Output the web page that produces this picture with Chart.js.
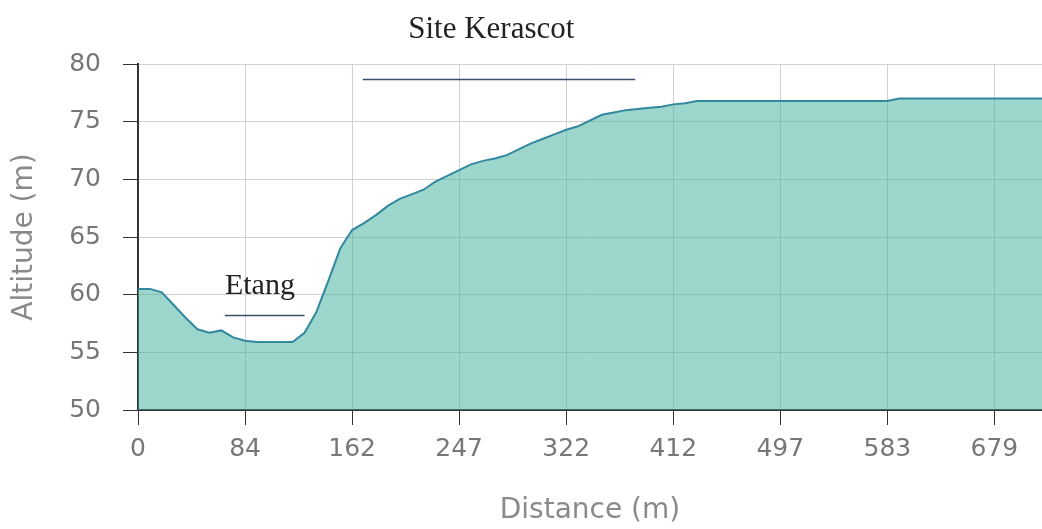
<!DOCTYPE html>
<html><head><meta charset="utf-8">
<script src="https://cdn.jsdelivr.net/npm/chart.js@4"></script>
<style>html,body{margin:0;padding:0;background:#fff;overflow:hidden}</style>
</head><body>
<canvas id="c" width="1042" height="529"></canvas>
<script>
// Tick labels (distance in m) shown on every 9th sample
const tickLabels = ['0','84','162','247','322','412','497','583','679'];
const pointsPerTick = 9;
// Altitude (m) per sample
const altitudes = [
  60.5, 60.5, 60.2, 59.1, 58.0, 57.0, 56.7, 56.9, 56.3,
  56.0, 55.9, 55.9, 55.9, 55.9, 56.7, 58.5, 61.2, 64.0,
  65.6, 66.2, 66.9, 67.7, 68.3, 68.7, 69.1, 69.8, 70.3,
  70.8, 71.3, 71.6, 71.8, 72.1, 72.6, 73.1, 73.5, 73.9,
  74.3, 74.6, 75.1, 75.6, 75.8, 76.0, 76.1, 76.2, 76.3,
  76.5, 76.6, 76.8, 76.8, 76.8, 76.8, 76.8, 76.8, 76.8,
  76.8, 76.8, 76.8, 76.8, 76.8, 76.8, 76.8, 76.8, 76.8,
  76.8, 77.0, 77.0, 77.0, 77.0, 77.0, 77.0, 77.0, 77.0,
  77.0, 77.0, 77.0, 77.0, 77.0
];
// Place annotations (in sample index / altitude units)
const placeNames = ['Etang', 'Site Kerascot'];
const placeTextX = [10.25, 29.7];
const placeTextY = [60.05, 82.25];
const placeLineFrom = [7.3, 18.9];
const placeLineTo = [14.0, 41.8];
const placeLineY = [58.2, 78.7];

const points = altitudes.map((a, i) => ({x: i, y: a}));

const placesPlugin = {
  id: 'places',
  afterDatasetsDraw(chart) {
    const {ctx, scales: {x, y}} = chart;
    ctx.save();
    placeNames.forEach((name, k) => {
      ctx.strokeStyle = '#34506e';
      ctx.lineWidth = 1.5;
      ctx.beginPath();
      const py = Math.round(y.getPixelForValue(placeLineY[k])) + 0.5;
      ctx.moveTo(x.getPixelForValue(placeLineFrom[k]), py);
      ctx.lineTo(x.getPixelForValue(placeLineTo[k]), py);
      ctx.stroke();
      ctx.fillStyle = '#222';
      ctx.font = (k === 0 ? '30px' : '31px') + ' "Liberation Serif", serif';
      ctx.textAlign = 'center';
      ctx.textBaseline = 'alphabetic';
      ctx.fillText(name, x.getPixelForValue(placeTextX[k]), y.getPixelForValue(placeTextY[k]));
    });
    ctx.restore();
  }
};

new Chart(document.getElementById('c'), {
  type: 'line',
  data: {
    datasets: [{
      data: points,
      borderColor: '#3388a0',
      borderWidth: 2,
      backgroundColor: 'rgba(59,173,153,0.5)',
      fill: 'start',
      pointRadius: 0,
      tension: 0
    }]
  },
  options: {
    responsive: false,
    animation: false,
    layout: {padding: {top: 64, right: 0, left: 0, bottom: 0}},
    plugins: {legend: {display: false}, tooltip: {enabled: false}},
    scales: {
      x: {
        type: 'linear',
        min: 0,
        max: altitudes.length - 1,
        afterBuildTicks: (s) => { s.ticks = tickLabels.map((_, k) => ({value: k * pointsPerTick})); },
        afterFit: (s) => { s.height = 119; },
        ticks: {
          autoSkip: false, maxRotation: 0, padding: 9,
          color: '#777',
          font: {family: '"DejaVu Sans", Verdana, sans-serif', size: 25},
          callback: (v) => tickLabels[Math.round(v / pointsPerTick)] ?? ''
        },
        grid: {color: '#d0d0d0', tickColor: '#333', tickLength: 15, lineWidth: 1},
        border: {color: '#333', width: 2},
        title: {
          display: true, text: 'Distance (m)', color: '#8a8a8a',
          font: {family: '"DejaVu Sans", Verdana, sans-serif', size: 28},
          padding: {top: 0, bottom: 1}
        }
      },
      y: {
        min: 50, max: 80,
        afterFit: (s) => { s.width = 138; },
        ticks: {
          stepSize: 5, padding: 22, color: '#777',
          font: {family: '"DejaVu Sans", Verdana, sans-serif', size: 25}
        },
        grid: {color: '#d0d0d0', tickColor: '#333', tickLength: 15, lineWidth: 1},
        border: {color: '#333', width: 2},
        title: {
          display: true, text: 'Altitude (m)', color: '#8a8a8a',
          font: {family: '"DejaVu Sans", Verdana, sans-serif', size: 28},
          padding: {top: 8, bottom: 0}
        }
      }
    }
  },
  plugins: [placesPlugin]
});
</script>
</body></html>
